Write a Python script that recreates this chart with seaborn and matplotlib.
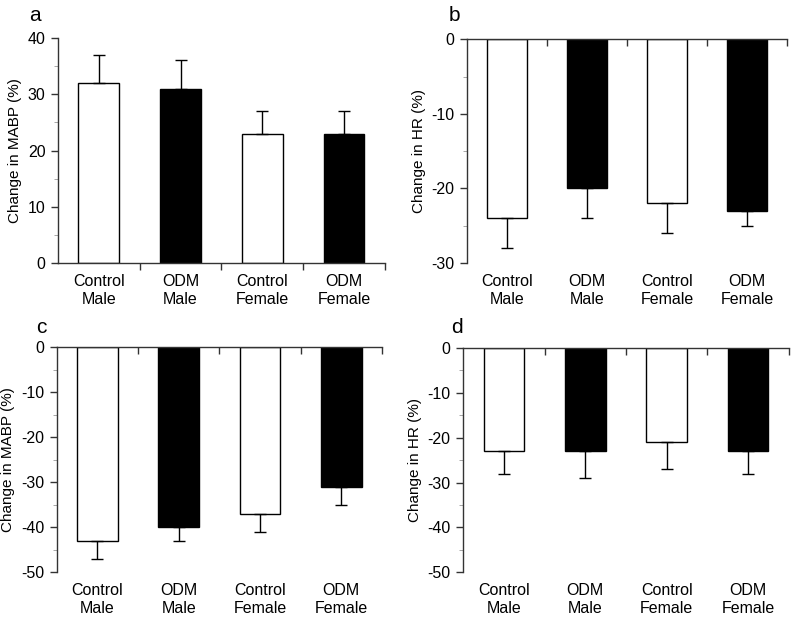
import numpy as np
import pandas as pd
import matplotlib
matplotlib.use("Agg")
import matplotlib.pyplot as plt
from matplotlib.ticker import MultipleLocator, FixedLocator
import seaborn as sns

sns.set_style("ticks")
plt.rcParams['font.family'] = ['Liberation Sans', 'DejaVu Sans']
plt.rcParams['axes.unicode_minus'] = False
plt.rcParams['text.color'] = 'black'
plt.rcParams['axes.labelcolor'] = 'black'
plt.rcParams['xtick.labelcolor'] = 'black'
plt.rcParams['ytick.labelcolor'] = 'black'

# Data
groups = ["Control\nMale", "ODM\nMale", "Control\nFemale", "ODM\nFemale"]
bar_colors = ["white", "black", "white", "black"]

mabp_a = [32, 31, 23, 23]
mabp_a_err = [5, 5, 4, 4]
hr_b = [-24, -20, -22, -23]
hr_b_err = [4, 4, 4, 2]
mabp_c = [-43, -40, -37, -31]
mabp_c_err = [4, 3, 4, 4]
hr_d = [-23, -23, -21, -23]
hr_d_err = [5, 6, 6, 5]

panels = [
    ("a", mabp_a, mabp_a_err, "Change in MABP (%)", (0, 40)),
    ("b", hr_b, hr_b_err, "Change in HR (%)", (-30, 0)),
    ("c", mabp_c, mabp_c_err, "Change in MABP (%)", (-50, 0)),
    ("d", hr_d, hr_d_err, "Change in HR (%)", (-50, 0)),
]

# axes boxes [left, bottom, width, height] in figure fraction
boxes = [
    [0.0725, 0.577, 0.4085, 0.362],
    [0.584, 0.577, 0.400, 0.360],
    [0.071, 0.080, 0.4065, 0.362],
    [0.579, 0.080, 0.407, 0.3605],
]
letter_pos = [(0.037, 0.960), (0.561, 0.960), (0.045, 0.458), (0.564, 0.458)]

fig = plt.figure(figsize=(8, 6.22), dpi=100)

for (letter, vals, errs, ylab, ylim), box, lp in zip(panels, boxes, letter_pos):
    ax = fig.add_axes(box)
    df = pd.DataFrame({"group": groups, "value": vals})
    sns.barplot(data=df, x="group", y="value", hue="group", palette=bar_colors,
                edgecolor="black", linewidth=1, width=0.5, errorbar=None,
                legend=False, ax=ax)
    vals = np.array(vals)
    errs = np.array(errs)
    positive = vals > 0
    lower = np.where(positive, 0, errs)
    upper = np.where(positive, errs, 0)
    ax.errorbar(np.arange(len(vals)), vals, yerr=[lower, upper], fmt="none",
                ecolor="black", elinewidth=1, capsize=4, capthick=1)

    ax.set_xlim(-0.5, 3.5)
    ax.set_ylim(*ylim)
    ax.set_xlabel("")
    ax.set_ylabel(ylab, fontsize=11)
    ax.yaxis.set_major_locator(MultipleLocator(10))
    ax.yaxis.set_minor_locator(MultipleLocator(5))
    ax.tick_params(axis="y", which="major", length=5, width=1, labelsize=11.5,
                   direction="out", color="#333333", pad=4)
    ax.tick_params(axis="y", which="minor", length=3, width=0.6, color="#999999")

    ax.xaxis.set_minor_locator(FixedLocator([0.5, 1.5, 2.5, 3.5]))
    ax.tick_params(axis="x", which="major", length=0, labelsize=11.5, pad=8)
    for s in ax.spines.values():
        s.set_linewidth(1)
        s.set_color("#333333")
    ax.spines["right"].set_visible(False)
    if ylim[0] == 0:
        ax.spines["top"].set_visible(False)
        ax.tick_params(axis="x", which="minor", bottom=True, top=False,
                       direction="out", length=5, width=1, color="#333333")
    else:
        ax.spines["bottom"].set_visible(False)
        ax.tick_params(axis="x", which="minor", bottom=False, top=True,
                       direction="in", length=5, width=1, color="#333333")
    fig.text(lp[0], lp[1], letter, fontsize=15, ha="left", va="bottom")

plt.savefig("out.png", dpi=100)
